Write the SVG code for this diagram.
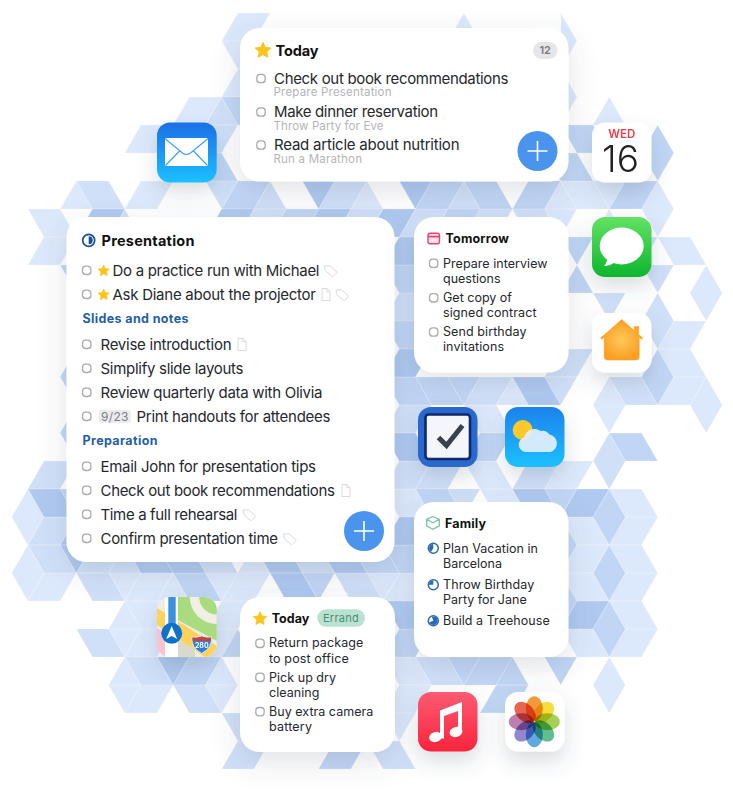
<svg xmlns="http://www.w3.org/2000/svg" width="733" height="800" viewBox="0 0 733 800">
<style>
text{font-family:Inter,"Liberation Sans",sans-serif;fill:#26282c}
.t{font-size:15px}.m{font-size:12.5px}
.h{font-size:14.5px;font-weight:700;fill:#111}
.hs{font-size:12.5px;font-weight:700;fill:#111}
.sec{font-size:12.5px;font-weight:700;fill:#1f5fa8}
.sub{font-size:11.500px;fill:#b4b6ba}
.card{fill:#fff;filter:url(#sh)}
.ic{filter:url(#shi)}
.box{fill:#fff;stroke:#a9abaf;stroke-width:1.3}
.tag{fill:none;stroke:#d9dadc;stroke-width:1}
.tile path{stroke:#fff;stroke-opacity:.4;stroke-width:.6;vector-effect:non-scaling-stroke;stroke-linejoin:round}
.a{fill:#dce8fb}.b{fill:#d0e0f8}.c{fill:#c1d6f5}.d{fill:#afc9f0}
.ring{fill:#fff;stroke:#2c69b5;stroke-width:1.5}.pie{fill:#2c69b5}
</style>
<defs>
<filter id="sh" x="-30%" y="-30%" width="160%" height="170%"><feDropShadow dx="0" dy="10" stdDeviation="14" flood-color="#4a5468" flood-opacity=".17"/></filter>
<filter id="shi" x="-50%" y="-50%" width="200%" height="220%"><feDropShadow dx="0" dy="10" stdDeviation="10" flood-color="#4a5468" flood-opacity=".2"/></filter>
<linearGradient id="gMail" x1="0" y1="0" x2="0" y2="1"><stop offset="0" stop-color="#1c6fe6"/><stop offset="1" stop-color="#1dc0ff"/></linearGradient>
<linearGradient id="gMsg" x1="0" y1="0" x2="0" y2="1"><stop offset="0" stop-color="#62e263"/><stop offset="1" stop-color="#0eb62e"/></linearGradient>
<linearGradient id="gWea" x1="0" y1="0" x2="0" y2="1"><stop offset="0" stop-color="#1f82ec"/><stop offset="1" stop-color="#1dc0fe"/></linearGradient>
<linearGradient id="gMus" x1="0" y1="0" x2="0" y2="1"><stop offset="0" stop-color="#fb5b73"/><stop offset="1" stop-color="#fa243c"/></linearGradient>
<radialGradient id="gHome"><stop offset="0" stop-color="#fdc95c"/><stop offset="1" stop-color="#fb9e20"/></radialGradient>
<clipPath id="mapc"><rect x="157" y="597" width="59.7" height="60" rx="13"/></clipPath>
<path id="star" d="M0-7.6 2.3-2.6 7.8-2 3.7 1.8 4.8 7.3 0 4.5-4.8 7.3-3.7 1.8-7.8-2-2.3-2.6z" fill="#fcc419" stroke="#fcc419" stroke-linejoin="round"/>
<path id="tagi" class="tag" d="M-6.5-4.5h5.2q.6 0 1 .4l6 5.2q.6.6 0 1.2l-3.4 3.6q-.6.6-1.2 0l-6.6-5.6q-.4-.4-.4-1z"/>
<path id="doc" class="tag" d="M-4-6H.8L4-2.8V6H-4zM.8-6V-2.8H4"/>
<rect id="bx" class="box" x="-4.200" y="-4.200" width="8.400" height="8.400" rx="3.300"/>
<g id="plus"><circle r="20" fill="#4a94ee"/><path d="M-10 0H10M0-10V10" stroke="#fff" stroke-width="1.6"/></g>
</defs>

<g id="hexagon-background" class="tile" transform="translate(11.7 13) scale(16.15 28)">
<path class="a" d="M14 0 16 0 15 1 13 1zM13 1 15 1 16 2 14 2zM14 2 16 2 15 3 13 3zM28 0 29 1 27 1zM34 0 35 1 34 2zM34 2 35 3 34 4zM37 3 38 4 36 4zM11 3 13 3 12 4 10 4zM8 4 10 4 9 5 7 5zM4 6 5 7 3 7zM8 6 10 6 9 7 7 7zM22 6 23 7 21 7zM34 6 35 7 33 7zM34 6 36 6 37 7 35 7zM36 6 38 6 37 7zM39 7 40 6 41 7 40 8zM1 7 3 7 4 8 2 8zM2 8 4 8 3 9 1 9zM33 7 35 7 34 8zM36 8 38 8 37 7zM40 8 42 8 43 9 41 9zM43 9 44 10 43 11 42 10zM41 11 43 11 42 12 40 12zM40 12 42 12 43 13 41 13zM41 13 43 13 42 14 40 14zM43 13 44 14 43 15 42 14zM37 13 38 14 37 15 36 14zM34 16 36 16 35 17 33 17zM1 17 2 18 1 19 0 18zM1 19 2 20 1 21 0 20zM2 20 4 20 3 21 1 21zM6 20 8 20 7 21zM8 20 10 20 9 21 7 21zM10 20 11 21 9 21zM12 20 14 20 13 21zM14 20 16 20 15 21 13 21zM22 20 24 20 23 21zM7 21 8 22 6 22zM7 21 9 21 10 22 8 22zM9 21 11 21 10 22zM13 21 15 21 14 22 12 22zM6 22 8 22 7 23zM8 22 10 22 9 23 7 23zM12 22 14 22 13 23 11 23zM7 23 8 24 6 24zM13 23 14 24 12 24zM6 24 8 24 7 25zM8 24 10 24 9 25 7 25zM12 24 14 24 13 25zM13 19 15 19 14 20zM14 20 16 20 15 19 13 19zM28 14 30 14 31 15 29 15zM28 16 30 16 31 17 29 17zM29 17 31 17 32 18 30 18zM31 13 32 14 30 14zM23 17 25 17 26 18 24 18zM37 17 39 17 40 18 38 18zM38 18 40 18 39 19 37 19zM34 18 36 18 37 19 35 19zM37 19 39 19 40 20 38 20zM38 20 40 20 39 21 37 21zM35 19 37 19 36 20 34 20zM34 20 36 20 37 21 35 21zM37 21 39 21 40 22 38 22zM38 22 40 22 39 23 37 23zM34 22 36 22 37 23 35 23zM37 23 38 24 37 25 36 24zM23 25 25 25 24 26zM24 26 25 27 23 27zM24 24 26 24 25 25 23 25zM24 20 26 20 25 21 23 21zM23 23 25 23 26 24 24 24z"/>
<path class="b" d="M12 4 14 4 13 5 11 5zM13 3 14 4 12 4zM4 6 6 6 7 7 5 7zM12 6 14 6 13 7zM16 6 17 7 15 7zM20 6 22 6 21 7 19 7zM28 6 29 7 27 7zM7 7 8 8 6 8zM15 7 17 7 16 8 14 8zM21 7 23 7 22 8 20 8zM25 7 27 7 26 8 24 8zM29 7 31 7 30 8 28 8zM31 7 33 7 34 8 32 8zM38 8 40 8 39 9 37 9zM39 9 41 9 40 10zM40 10 41 11 40 12 39 11zM36 10 38 10 37 11zM34 12 36 12 35 13 33 13zM33 13 35 13 34 14zM37 13 39 13 40 14 38 14zM37 15 38 16 37 17 36 16zM24 10 26 10 25 11 23 11zM2 16 4 16 3 17 1 17zM2 18 4 18 3 19 1 19zM1 19 3 19 4 20 2 20zM5 19 7 19 6 20 4 20zM6 20 8 20 7 19zM12 20 14 20 13 19 11 19zM17 19 19 19 20 20 18 20zM4 20 6 20 7 21 5 21zM20 20 22 20 23 21 21 21zM4 22 6 22 7 23 5 23zM7 23 9 23 10 24 8 24zM10 24 12 24 13 25 11 25zM13 25 15 25 16 26 14 26zM14 26 16 26 15 27 13 27zM22 26 24 26 25 27 23 27zM29 13 31 13 30 14 28 14zM24 14 26 14 25 15 23 15zM26 16 28 16 27 17 25 17zM24 16 26 16 25 17 23 17zM27 17 29 17 28 18zM32 16 34 16 33 17 31 17zM25 23 27 23 28 24 26 24z"/>
<path class="c" d="M13 3 15 3 16 4 14 4zM11 5 13 5 14 6 12 6zM14 6 16 6 15 7 13 7zM26 6 28 6 27 7 25 7zM28 6 30 6 31 7 29 7zM32 6 34 6 33 7 31 7zM38 6 40 6 39 7 37 7zM34 4 36 4 37 5 35 5zM34 6 36 6 35 5 33 5zM39 5 40 4 41 5 40 6zM17 7 19 7 18 8 16 8zM27 7 29 7 28 8 26 8zM34 8 36 8 35 9zM34 10 36 10 35 9zM23 9 25 9 26 10 24 10zM23 11 25 11 26 12 24 12zM3 9 5 9 4 10zM3 13 4 12 5 13 4 14zM3 15 4 14 5 15 4 16zM3 17 5 17 4 18zM40 12 41 13 40 14 39 13zM37 15 39 15 40 16 38 16zM25 13 27 13 28 14 26 14zM27 13 29 13 28 14zM23 13 25 13 26 14 24 14zM29 15 31 15 30 16 28 16zM25 17 27 17 28 18 26 18zM33 17 35 17 34 18zM21 19 23 19 24 20 22 20zM18 20 20 20 19 21zM10 20 12 20 13 21 11 21zM14 22 15 23 13 23zM11 23 13 23 12 24 10 24zM20 26 22 26 21 27 19 27zM37 17 38 18 37 19 36 18zM37 19 38 20 37 21 36 20zM37 21 38 22 37 23 36 22zM34 18 35 19 34 20zM34 20 35 21 34 22zM33 23 35 23 34 24zM27 23 29 23 28 24zM29 23 31 23 30 24 28 24zM31 23 32 24 30 24zM30 24 32 24 31 25 29 25zM23 19 25 19 26 20 24 20zM24 22 26 22 25 23 23 23z"/>
<path class="d" d="M18 6 20 6 19 7zM24 6 26 6 25 7zM5 7 7 7 6 8 4 8zM13 7 15 7 14 8 12 8zM19 7 21 7 20 8 18 8zM23 7 25 7 24 8 22 8zM24 8 26 8 25 9 23 9zM24 12 26 12 25 13 23 13zM1 17 3 17 4 18 2 18zM4 18 5 19 3 19zM3 19 5 19 4 20zM7 19 9 19 10 20 8 20zM9 19 11 19 12 20 10 20zM15 19 17 19 18 20 16 20zM19 19 21 19 22 20 20 20zM16 20 18 20 19 21 17 21zM9 23 11 23 10 24zM31 13 33 13 34 14 32 14zM31 17 33 17 34 18 32 18zM35 17 37 17 36 18 34 18zM35 21 37 21 36 22 34 22zM23 15 25 15 26 16 24 16zM24 18 26 18 25 19 23 19zM23 21 25 21 26 22 24 22z"/>
</g>

<g id="connectors"></g>

<g id="card-today">
<rect class="card" x="240" y="28" width="328.5" height="153.5" rx="20"/>
<use href="#star" x="263" y="50"/>
<text class="h" x="275.5" y="56" textLength="43">Today</text>
<rect x="533" y="42" width="24.5" height="17" rx="8.5" fill="#e6e6e8"/>
<text x="545.2" y="54.3" font-size="11" font-weight="600" text-anchor="middle" style="fill:#77797d">12</text>
<use href="#bx" x="261" y="78.5"/><text class="t" x="274" y="84" textLength="234.5">Check out book recommendations</text>
<text class="sub" x="273.5" y="96" textLength="118">Prepare Presentation</text>
<use href="#bx" x="261" y="112"/><text class="t" x="274" y="117" textLength="164">Make dinner reservation</text>
<text class="sub" x="273.5" y="130" textLength="110">Throw Party for Eve</text>
<use href="#bx" x="261" y="145"/><text class="t" x="274" y="150" textLength="185.5">Read article about nutrition</text>
<text class="sub" x="273.5" y="163" textLength="88.5">Run a Marathon</text>
<use href="#plus" x="537.5" y="151"/>
</g>

<g id="card-presentation">
<rect class="card" x="66.5" y="217" width="328" height="345" rx="20"/>
<circle cx="88.7" cy="240.3" r="6" fill="#fff" stroke="#1a4f96" stroke-width="1.7"/><path d="M88.7 236.3a4 4 0 0 1 0 8z" fill="#1a4f96"/>
<text class="h" x="101.5" y="245.8" textLength="93">Presentation</text>
<use href="#bx" x="86.7" y="270.3"/><use href="#star" transform="translate(103.7 270.5) scale(.72)"/>
<text class="t" x="112.5" y="275.5" textLength="207">Do a practice run with Michael</text><use href="#tagi" x="331" y="270.5"/>
<use href="#bx" x="86.7" y="294.3"/><use href="#star" transform="translate(103.7 294.5) scale(.72)"/>
<text class="t" x="112.5" y="299.5" textLength="203.5">Ask Diane about the projector</text><use href="#doc" x="326" y="294.5"/><use href="#tagi" x="342.5" y="294.5"/>
<text class="sec" x="82.5" y="323" textLength="106">Slides and notes</text>
<use href="#bx" x="86.7" y="344.3"/><text class="t" x="100.5" y="349.5" textLength="131">Revise introduction</text><use href="#doc" x="242" y="344.5"/>
<use href="#bx" x="86.7" y="368.3"/><text class="t" x="100.5" y="373.5" textLength="143">Simplify slide layouts</text>
<use href="#bx" x="86.7" y="392.3"/><text class="t" x="100.5" y="397.5" textLength="222">Review quarterly data with Olivia</text>
<use href="#bx" x="86.7" y="416.3"/><rect x="98.7" y="410" width="32" height="13" rx="3" fill="#ececee"/>
<text x="101" y="421" font-size="12" style="fill:#7c7e82" textLength="27.5">9/23</text>
<text class="t" x="136.5" y="421.5" textLength="194">Print handouts for attendees</text>
<text class="sec" x="82.5" y="445" textLength="75">Preparation</text>
<use href="#bx" x="86.7" y="466.3"/><text class="t" x="100.5" y="471.5" textLength="215.5">Email John for presentation tips</text>
<use href="#bx" x="86.7" y="490.3"/><text class="t" x="100.5" y="495.5" textLength="234.5">Check out book recommendations</text><use href="#doc" x="346" y="490.5"/>
<use href="#bx" x="86.7" y="514.3"/><text class="t" x="100.5" y="519.5" textLength="137">Time a full rehearsal</text><use href="#tagi" x="249.5" y="514.5"/>
<use href="#bx" x="86.7" y="538.3"/><text class="t" x="100.5" y="543.5" textLength="177.5">Confirm presentation time</text><use href="#tagi" x="290" y="538.5"/>
<use href="#plus" x="364" y="531"/>
</g>

<g id="card-tomorrow">
<rect class="card" x="414" y="217" width="154.5" height="155.5" rx="20"/>
<rect x="428" y="233.3" width="11.5" height="10.5" rx="2.2" fill="#fbe3ea" stroke="#e2486f" stroke-width="1.4"/><path d="M428 236.6h11.5" stroke="#e2486f" stroke-width="1.8"/>
<text class="hs" x="445.5" y="243.3" textLength="63.5">Tomorrow</text>
<use href="#bx" x="433.7" y="263.3"/><text class="m" x="443" y="268" textLength="104.5">Prepare interview</text>
<text class="m" x="443" y="283" textLength="57.5">questions</text>
<use href="#bx" x="433.7" y="297.8"/><text class="m" x="443" y="302" textLength="69">Get copy of</text>
<text class="m" x="443" y="317" textLength="93.5">signed contract</text>
<use href="#bx" x="433.7" y="332"/><text class="m" x="443" y="336" textLength="83.5">Send birthday</text>
<text class="m" x="443" y="351" textLength="61">invitations</text>
</g>

<g id="card-family">
<rect class="card" x="414" y="502" width="154.5" height="155" rx="20"/>
<path d="M433 516.5l6.3 2.8v6.6l-6.3 3.4-6.3-3.4v-6.6zM426.7 519.3l6.3 3.4 6.3-3.4" fill="none" stroke="#78c3a6" stroke-width="1.3" stroke-linejoin="round"/>
<text class="hs" x="445" y="527.7" textLength="41">Family</text>
<circle class="ring" cx="433.3" cy="548.3" r="5"/><path class="pie" d="M433.3 548.3V544a4.3 4.3 0 0 0-4.3 4.3 4.3 4.3 0 0 0 2 3.7z"/>
<text class="m" x="443" y="552.7" textLength="95">Plan Vacation in</text>
<text class="m" x="443" y="568" textLength="59">Barcelona</text>
<circle class="ring" cx="433.3" cy="584.7" r="5"/><path class="pie" d="M433.3 584.7V580.4a4.3 4.3 0 0 0-4.3 4.3z"/>
<text class="m" x="443" y="588.7" textLength="91.3">Throw Birthday</text>
<text class="m" x="443" y="604" textLength="83.7">Party for Jane</text>
<circle class="ring" cx="433.3" cy="620.7" r="5"/><path class="pie" d="M433.3 620.7H429a4.3 4.3 0 1 0 4.3-4.3z" transform="rotate(-20 433.3 620.7)"/>
<text class="m" x="443" y="625" textLength="106.7">Build a Treehouse</text>
</g>

<g id="card-errand">
<rect class="card" x="240" y="597" width="155" height="155" rx="20"/>
<use href="#star" transform="translate(260 618.3) scale(.85)"/>
<text class="hs" x="271.7" y="623.3" textLength="37.6">Today</text>
<rect x="317.3" y="609.3" width="47.7" height="17.4" rx="8.7" fill="#b9e3d0"/>
<text x="323" y="621.7" font-size="11" style="fill:#4f8c75" textLength="35.7">Errand</text>
<use href="#bx" x="260" y="643.3"/><text class="m" x="269" y="647.3" textLength="94.3">Return package</text>
<text class="m" x="269" y="662.7" textLength="79.7">to post office</text>
<use href="#bx" x="260" y="677.3"/><text class="m" x="269" y="681.7" textLength="67">Pick up dry</text>
<text class="m" x="269" y="697" textLength="50.3">cleaning</text>
<use href="#bx" x="260" y="711.7"/><text class="m" x="269" y="716" textLength="104.3">Buy extra camera</text>
<text class="m" x="269" y="731.3" textLength="43">battery</text>
</g>

<g id="icon-mail" class="ic">
<rect x="157" y="122.5" width="59.7" height="60" rx="13" fill="url(#gMail)"/>
<rect x="165" y="138" width="43" height="28" rx="2" fill="#fff"/>
<path d="M165.5 139l17 14q4 3 8 0l17-14M166 165l13.5-14M207 165l-13.5-14" fill="none" stroke="#3aa0f5" stroke-width="1.1"/>
</g>
<g id="icon-calendar" class="ic">
<rect x="592" y="122.5" width="59.5" height="60" rx="13" fill="#fff"/>
<text x="621.8" y="137.8" font-size="11.5" font-weight="600" text-anchor="middle" style="fill:#e8404a" textLength="27">WED</text>
<text x="620.5" y="172" font-size="37" font-weight="300" text-anchor="middle" style="fill:#222">16</text>
</g>
<g id="icon-messages" class="ic">
<rect x="592" y="217" width="59.5" height="60" rx="13" fill="url(#gMsg)"/>
<ellipse cx="621.7" cy="246" rx="22" ry="18.5" fill="#fff"/>
<path d="M607 258q.5 4-3 8 6 0 11-4z" fill="#fff"/>
</g>
<g id="icon-home" class="ic">
<rect x="592" y="313" width="59.5" height="59.5" rx="13" fill="#fff"/>
<path d="M621.7 319.5l12.5 11v-4h4.500v8l4 3.500-1 1.200-2.500-1.800V356q0 4-3 4h-29q-3 0-3-4v-18.600l-2.500 1.800-1-1.200z" fill="url(#gHome)" stroke="#fba22c" stroke-width=".6"/>
</g>
<g id="icon-things" class="ic">
<rect x="418" y="407" width="59.500" height="60" rx="13" fill="#2968cd"/>
<rect x="425.500" y="414.500" width="44.500" height="44.500" rx="3" fill="#f4f6fb" stroke="#0c2a6b" stroke-width="2.600"/>
<path d="M438.500 437.500l8 8 16-20" fill="none" stroke="#3a404e" stroke-width="5"/>
</g>
<g id="icon-weather" class="ic">
<rect x="505" y="407" width="59.500" height="60" rx="13" fill="url(#gWea)"/>
<circle cx="522.700" cy="430" r="10" fill="#fdc92c"/>
<path d="M526 452a7.500 7.500 0 0 1-1.500-14.800 10 10 0 0 1 16-6.200 8.500 8.500 0 0 1 9 3.500 9 9 0 0 1 1 17.500z" fill="#e2f0fb" fill-opacity=".92"/>
</g>
<g id="icon-maps" class="ic">
<g clip-path="url(#mapc)">
<rect x="157" y="597" width="60" height="60" fill="#efece1"/>
<path d="M176 597h41v44l-41-22z" fill="#a9dc7e"/>
<circle cx="216.700" cy="597" r="27" fill="#f1efe4"/><circle cx="216.700" cy="597" r="17.500" fill="#a9dc7e"/>
<path d="M157 608l60 38v11h-12l-48-32z" fill="#fcd25a"/>
<path d="M157 628l8 5v24h-8z" fill="#f9c3cd"/>
<path d="M178 640l-.2 17H195v-8z" fill="#dcd8cc"/>
<rect x="165" y="597" width="13" height="60" fill="#fff"/>
<rect x="168.300" y="597" width="7.400" height="38" fill="#3d90df"/>
<circle cx="171.700" cy="633.300" r="10.500" fill="#0f72cf"/>
<path d="M171.700 626l5.500 13-5.500-3-5.500 3z" fill="#fff"/>
<path d="M192 637q5 1 9.700-1 4.700 2 9.800 1 1 11-9.800 16.500-10.700-5.500-9.700-16.500z" fill="#2a7fd6" stroke="#e8e8e0" stroke-width="1"/>
<path d="M192.500 637.500q5 1 9.200-1 4.200 2 9.300 1v3.500h-18.500z" fill="#d0403c"/>
<text x="201.800" y="648" font-size="7" font-weight="700" text-anchor="middle" style="fill:#fff">280</text>
</g>
</g>
<g id="icon-music" class="ic">
<rect x="418" y="692" width="59.500" height="59.500" rx="13" fill="url(#gMus)"/>
<path d="M440 710.500l22-8.500v30h-4v-21l-14 5v22.500h-4z" fill="#fff"/>
<ellipse cx="435.500" cy="737" rx="6.500" ry="5" fill="#fff" transform="rotate(-15 435.500 737)"/>
<ellipse cx="456" cy="732" rx="6.500" ry="5" fill="#fff" transform="rotate(-15 456 732)"/>
</g>
<g id="icon-photos" class="ic">
<rect x="505" y="692" width="59.500" height="59.500" rx="13" fill="#fff"/>
<g style="isolation:isolate" transform="translate(534.300 721.700)">
<g style="mix-blend-mode:multiply"><ellipse cy="-13" rx="8.500" ry="12.500" fill="#f29a38"/></g>
<g style="mix-blend-mode:multiply"><ellipse cy="-13" rx="8.500" ry="12.500" fill="#f4dd3e" transform="rotate(45)"/></g>
<g style="mix-blend-mode:multiply"><ellipse cy="-13" rx="8.500" ry="12.500" fill="#a5cf55" transform="rotate(90)"/></g>
<g style="mix-blend-mode:multiply"><ellipse cy="-13" rx="8.500" ry="12.500" fill="#62bd90" transform="rotate(135)"/></g>
<g style="mix-blend-mode:multiply"><ellipse cy="-13" rx="8.500" ry="12.500" fill="#5fa9e0" transform="rotate(180)"/></g>
<g style="mix-blend-mode:multiply"><ellipse cy="-13" rx="8.500" ry="12.500" fill="#9487cc" transform="rotate(225)"/></g>
<g style="mix-blend-mode:multiply"><ellipse cy="-13" rx="8.500" ry="12.500" fill="#bb7fb0" transform="rotate(270)"/></g>
<g style="mix-blend-mode:multiply"><ellipse cy="-13" rx="8.500" ry="12.500" fill="#e8654f" transform="rotate(315)"/></g>
</g>
</g>
</svg>
